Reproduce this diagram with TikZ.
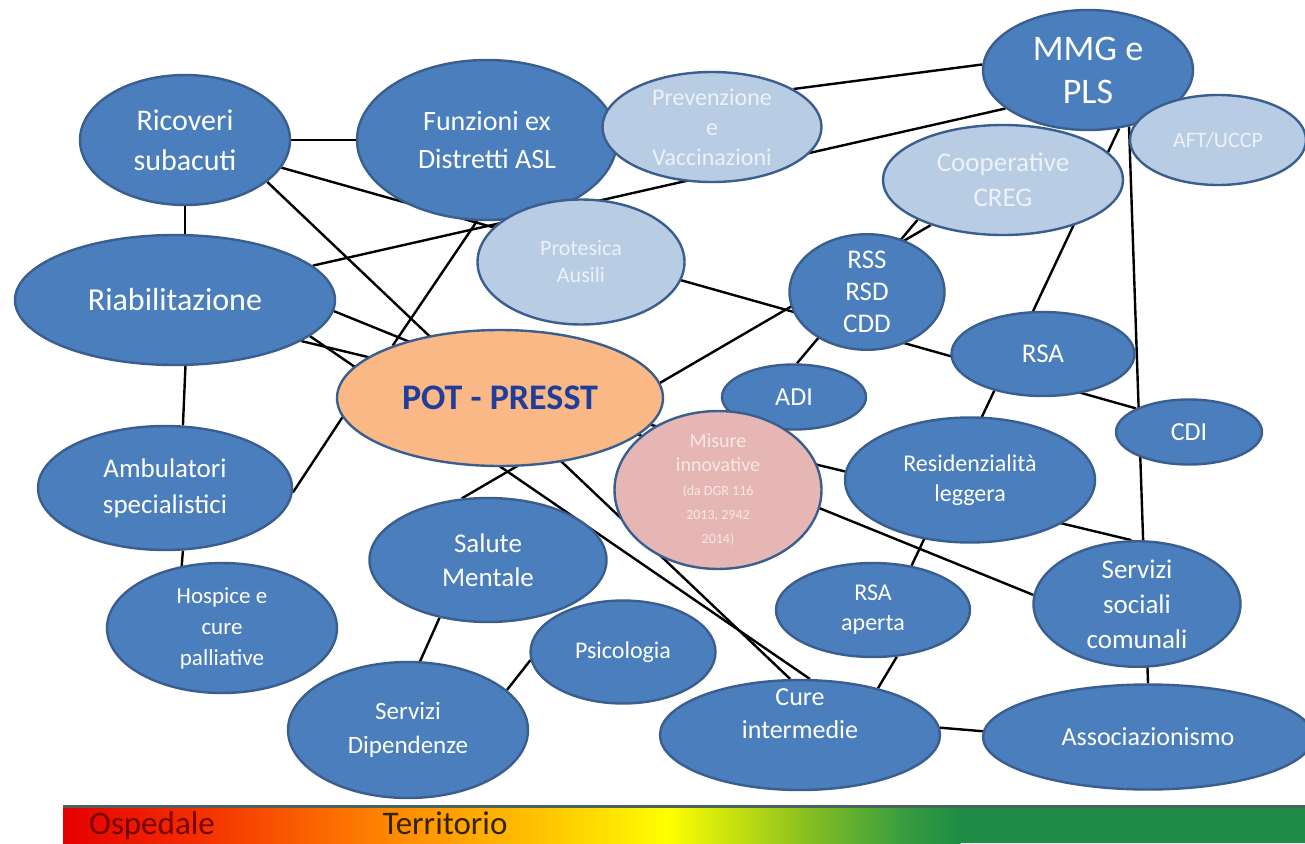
\documentclass[tikz,border=0pt]{standalone}
\usepackage{fontspec}
\setmainfont{Carlito}
\usetikzlibrary{shapes.geometric}
\pgfdeclarelayer{paper}
\pgfdeclarelayer{edges}
\pgfsetlayers{paper,edges,main}
\definecolor{nb}{HTML}{4A7EBC}
\definecolor{nbd}{HTML}{3A5E8E}
\definecolor{lb}{HTML}{B8CCE4}
\definecolor{ltx}{HTML}{EDF2F9}
\definecolor{po}{HTML}{F9B886}
\definecolor{pk}{HTML}{E6B6B4}
\definecolor{pktx}{HTML}{F7E8E8}
\definecolor{potx}{HTML}{1F3E9C}
\definecolor{barline}{HTML}{4A6262}
\definecolor{g0}{HTML}{E50000}
\definecolor{g1}{HTML}{F33000}
\definecolor{g2}{HTML}{FF8C00}
\definecolor{g3}{HTML}{FFCC00}
\definecolor{g4}{HTML}{FFFF00}
\definecolor{g5}{HTML}{8DC21F}
\definecolor{g6}{HTML}{3A9E3E}
\definecolor{g7}{HTML}{1E8C46}
\definecolor{ospc}{HTML}{780000}
\definecolor{terc}{HTML}{32230A}
\tikzset{
  bub/.style={ellipse, draw=nbd, line width=2.4pt, inner sep=0pt, align=center, text=white},
  dk/.style={bub, fill=nb},
  lt/.style={bub, fill=lb, text=ltx},
  sz/.style 2 args={minimum width=#1pt, minimum height=#2pt},
  fs/.style 2 args={font=\fontsize{#1}{#2}\selectfont},
  conn/.style={line width=2.4pt, black},
  txt/.style={inner sep=0pt, align=center, text=white},
}
\begin{document}
\begin{tikzpicture}[x=1pt,y=-1pt]
\begin{pgfonlayer}{paper}
\fill[white] (0,0) rectangle (1305,843);
\end{pgfonlayer}
\useasboundingbox (0,0) rectangle (1305,843);

% nodes
\node[dk, sz={210}{130}, fs={30}{40}] (ric) at (185,140) {Ricoveri\\subacuti};
\node[dk, sz={260}{160}, fs={28}{38}] (asl) at (487,140) {Funzioni ex\\Distretti ASL};
\node[lt, sz={219}{110}, fs={24}{30}] (prev) at (712,127) {Prevenzione\\e\\Vaccinazioni};
\node[dk, sz={210}{120}, fs={36}{43}] (mmg) at (1088,70) {MMG e\\PLS};
\node[lt, sz={176}{90}, fs={22}{26}] (aft) at (1218,140) {AFT/UCCP};
\node[lt, sz={240}{110}, fs={27}{35}] (coop) at (1003,180) {Cooperative\\CREG};
\node[lt, sz={207}{125}, fs={22}{27}] (prot) at (581,262) {Protesica\\Ausili};
\node[dk, sz={320}{130}, fs={32}{38}] (riab) at (175,300) {Riabilitazione};
\node[dk, sz={155}{108}, fs={27}{32}] (rss) at (867,292) {RSS\\RSD\\CDD};
\node[dk, sz={183}{84}, fs={27}{32}] (rsa) at (1043,354) {RSA};
\node[dk, sz={144}{65}, fs={26}{30}] (adi) at (794,397) {ADI};
\node[bub, fill=po, text=potx, sz={326}{136}, font=\fontsize{36}{42}\selectfont\bfseries] (pot) at (500,398) {POT - PRESST};
\node[dk, sz={146}{65}, fs={26}{30}] (cdi) at (1189,432) {CDI};
\node[dk, sz={254}{124}, fs={27}{36}] (amb) at (165,488) {Ambulatori\\specialistici};
\node[bub, fill=pk, text=pktx, sz={207}{135}, fs={20}{24}] (mis) at (718,490) {Misure\\innovative\\{\fontsize{14}{24}\selectfont (da DGR 116}\\{\fontsize{14}{24}\selectfont 2013, 2942}\\{\fontsize{14}{24}\selectfont 2014)}};
\node[dk, sz={250}{125}, fs={24}{30}] (res) at (970,480) {Residenzialità\\leggera};
\node[dk, sz={237}{124}, fs={27}{34}] (sal) at (488,560) {Salute\\Mentale};
\node[dk, sz={230}{130}, fs={23}{31}] (hos) at (222,628) {Hospice e\\cure\\palliative};
\node[dk, sz={185}{103}, fs={24}{30}] (psi) at (623,652) {Psicologia};
\node[dk, sz={194}{94}, fs={24}{30}] (rsap) at (873,610) {RSA\\aperta};
\node[dk, sz={207}{122}, fs={27}{35}] (ssc) at (1137,604) {Servizi\\sociali\\comunali};
\node[dk, sz={240}{136}, fs={25}{34}] (sdip) at (408,730) {Servizi\\Dipendenze};
\node[dk, sz={280}{110}] (cure) at (800,735) {};
\node[txt, fs={26}{33}] (curet) at (800,714) {Cure\\intermedie};
\node[dk, sz={330}{105}, fs={26}{30}] (asso) at (1148,737) {Associazionismo};

% connectors
\begin{pgfonlayer}{edges}
\draw[conn] (ric.0) -- (asl.180);
\draw[conn] (ric.south) -- (ric.south |- riab.north);
\draw[conn] (riab.-81) -- (amb.74);
\draw[conn] (amb.-74) -- (hos.123);
\draw[conn] (ric.-27) -- (cure.100);
\draw[conn] (ric.-16) -- (cdi.156);
\draw[conn] (riab.14) -- (mmg.205);
\draw[conn] (riab.-15) -- (cure.80);
\draw[conn] (riab.-4) -- (ssc.175);
\draw[conn] (riab.-18) -- (ssc.95);
\draw[conn] (asl.-97) -- (pot.154);
\draw[conn] (prev.25) -- (mmg.177);
\draw[conn] (amb.-2) -- (pot.187);
\draw[conn] (sal.113) -- (coop.212);
\draw[conn] (adi.85) -- (coop.205);
\draw[conn] (rsa.103) -- (mmg.-62);
\draw[conn] (mmg.-54) -- (asso.90);
\draw[conn] (rsa.217) -- (rsap.49);
\draw[conn] (rsap.-63) -- (cure.31);
\draw[conn] (cure.3) -- (asso.178);
\draw[conn] (sal.230) -- (sdip.80);
\draw[conn] (psi.185) -- (sdip.22);
\end{pgfonlayer}

% gradient bar
\shade[left color=g0, right color=g1] (63,806) rectangle (200.5,843);
\shade[left color=g1, right color=g2] (199.5,806) rectangle (400.5,843);
\shade[left color=g2, right color=g3] (399.5,806) rectangle (560.5,843);
\shade[left color=g3, right color=g4] (559.5,806) rectangle (667.5,843);
\shade[left color=g4, right color=g5] (666.5,806) rectangle (800.5,843);
\shade[left color=g5, right color=g6] (799.5,806) rectangle (900.5,843);
\shade[left color=g6, right color=g7] (899.5,806) rectangle (960.5,843);
\fill[g7] (959.5,806) rectangle (1305,843);
\draw[barline, line width=3pt] (63,806) -- (1305,806);
\node[inner sep=0pt, anchor=base, text=ospc, fs={33}{38}] (osp) at (152,834) {Ospedale};
\node[inner sep=0pt, anchor=base, text=terc, fs={33}{38}] (terr) at (445,834) {Territorio};
\end{tikzpicture}
\end{document}
